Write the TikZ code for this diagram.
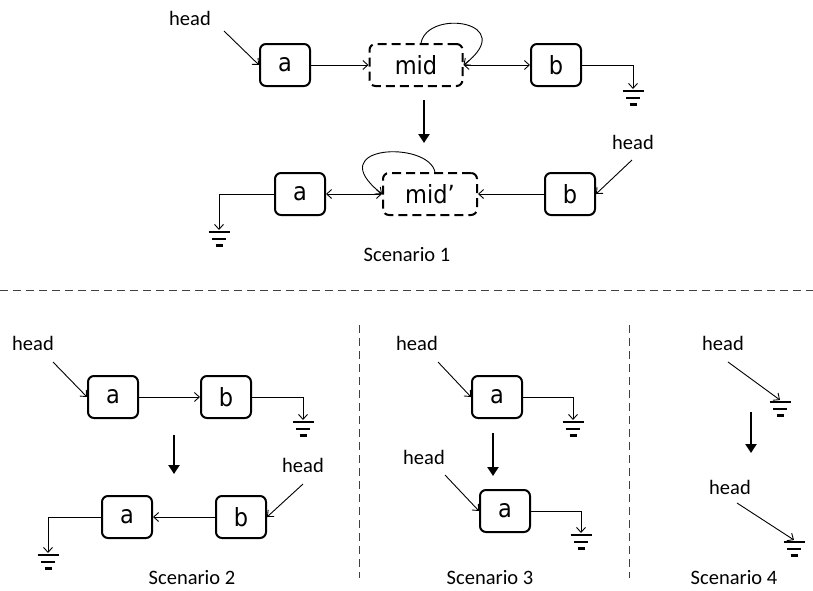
\documentclass[tikz,border=0pt]{standalone}
\usepackage{fontspec}
\setmainfont{Carlito}
\newfontfamily\boxfont[FakeStretch=0.9]{DejaVu Sans}
\usetikzlibrary{arrows.meta,calc}

\tikzset{
  nodebox/.style={draw, line width=2pt, rounded corners=6pt,
    minimum width=50pt, minimum height=42pt, inner sep=0pt,
    font=\boxfont\fontsize{25}{28}\selectfont},
  midbox/.style={nodebox, minimum width=93pt, dash pattern=on 9pt off 5pt},
  lbl/.style={inner sep=0pt, font=\fontsize{20.5}{24}\selectfont},
  link/.style={line width=0.9pt, -{Straight Barb[length=5pt,width=9pt]}},
  both/.style={line width=0.9pt, {Straight Barb[length=5pt,width=9pt]}-{Straight Barb[length=5pt,width=9pt]}},
  step arrow/.style={line width=2.5pt, -{Triangle[length=9pt,width=11pt]}},
  sep/.style={line width=0.8pt, dash pattern=on 8pt off 5pt, black!75},
  gnd/.pic={\draw[line width=2.6pt] (-10.5,2)--(10.5,2) (-7,9)--(7,9) (-3.5,15.5)--(3.5,15.5);}
}

\begin{document}
\begin{tikzpicture}[x=1pt, y=-1pt]
\useasboundingbox (0,0) rectangle (813,590);

% ---------- Scenario 1: before ----------
\node[lbl] (h1) at (190,18) {head};
\coordinate (h1s) at (224,31);
\node[nodebox] (a1) at (285,65) {a};
\node[midbox] (m1) at (416,65) {mid};
\node[nodebox] (b1) at (556,65) {b};
\coordinate (g1) at (633,89);
\draw[link] (h1s) -- (a1.west);
\draw[link] (a1.east) -- (m1.west);
\draw[both] (m1.east) -- (b1.west);
\draw[link] (m1.north -| 421,0) .. controls (428,8) and (520,22) .. (m1.east);
\draw[link] (b1.east) -| (g1);
\pic at (g1) {gnd};

\coordinate (s1a) at (424,100);
\coordinate (s1b) at (424,143);
\draw[step arrow] (s1a) -- (s1b);

% ---------- Scenario 1: after ----------
\node[nodebox] (a2) at (300,194) {a};
\node[midbox, minimum width=94pt] (m2) at (430,194) {mid’};
\node[nodebox] (b2) at (570,194) {b};
\node[lbl] (h2) at (633,142) {head};
\coordinate (h2s) at (632,160);
\coordinate (g2) at (219,230);
\draw[link] (h2s) -- (b2.east);
\draw[both] (a2.east) -- (m2.west);
\draw[link] (b2.west) -- (m2.east);
\draw[link] (m2.north -| 435,0) .. controls (428,140) and (320,145) .. (m2.west);
\draw[link] (a2.west) -| (g2);
\pic at (g2) {gnd};
\node[lbl] (t1) at (407,255) {Scenario 1};

% ---------- separators ----------
\coordinate (sl) at (0,290);
\coordinate (sr) at (813,290);
\draw[sep] (sl) -- (sr);
\coordinate (v1t) at (359,325);
\coordinate (v1b) at (359,578);
\coordinate (v2t) at (629,325);
\coordinate (v2b) at (629,578);
\draw[sep] (v1t) -- (v1b);
\draw[sep] (v2t) -- (v2b);

% ---------- Scenario 2 ----------
\node[lbl] (h3) at (33,343) {head};
\coordinate (h3s) at (53,362);
\node[nodebox] (a3) at (113,397) {a};
\node[nodebox] (b3) at (226,397) {b};
\coordinate (g3) at (303,420);
\draw[link] (h3s) -- (a3.west);
\draw[link] (a3.east) -- (b3.west);
\draw[link] (b3.east) -| (g3);
\pic at (g3) {gnd};

\coordinate (s2a) at (174,435);
\coordinate (s2b) at (174,474);
\draw[step arrow] (s2a) -- (s2b);

\node[lbl] (h4) at (303,465) {head};
\coordinate (h4s) at (303,484);
\node[nodebox] (a4) at (127,517) {a};
\node[nodebox] (b4) at (241,517) {b};
\coordinate (g4) at (48,553);
\draw[link] (h4s) -- (b4.east);
\draw[link] (b4.west) -- (a4.east);
\draw[link] (a4.west) -| (g4);
\pic at (g4) {gnd};
\node[lbl] (t2) at (192,578) {Scenario 2};

% ---------- Scenario 3 ----------
\node[lbl] (h5) at (417,343) {head};
\coordinate (h5s) at (438,362);
\node[nodebox] (a5) at (497,397) {a};
\coordinate (g5) at (573,420);
\draw[link] (h5s) -- (a5.west);
\draw[link] (a5.east) -| (g5);
\pic at (g5) {gnd};

\coordinate (s3a) at (493,433);
\coordinate (s3b) at (493,476);
\draw[step arrow] (s3a) -- (s3b);

\node[lbl] (h6) at (424,457) {head};
\coordinate (h6s) at (445,475);
\node[nodebox] (a6) at (505,511) {a};
\coordinate (g6) at (581,533);
\draw[link] (h6s) -- (a6.west);
\draw[link] (a6.east) -| (g6);
\pic at (g6) {gnd};
\node[lbl] (t3) at (490,578) {Scenario 3};

% ---------- Scenario 4 ----------
\node[lbl] (h7) at (723,343) {head};
\coordinate (h7s) at (728,362);
\coordinate (g7) at (780,400);
\draw[link] (h7s) -- (g7);
\pic at (g7) {gnd};

\coordinate (s4a) at (751,412);
\coordinate (s4b) at (751,453);
\draw[step arrow] (s4a) -- (s4b);

\node[lbl] (h8) at (730,487) {head};
\coordinate (h8s) at (737,503);
\coordinate (g8) at (794,540);
\draw[link] (h8s) -- (g8);
\pic at (g8) {gnd};
\node[lbl] (t4) at (734,578) {Scenario 4};
\end{tikzpicture}
\end{document}
